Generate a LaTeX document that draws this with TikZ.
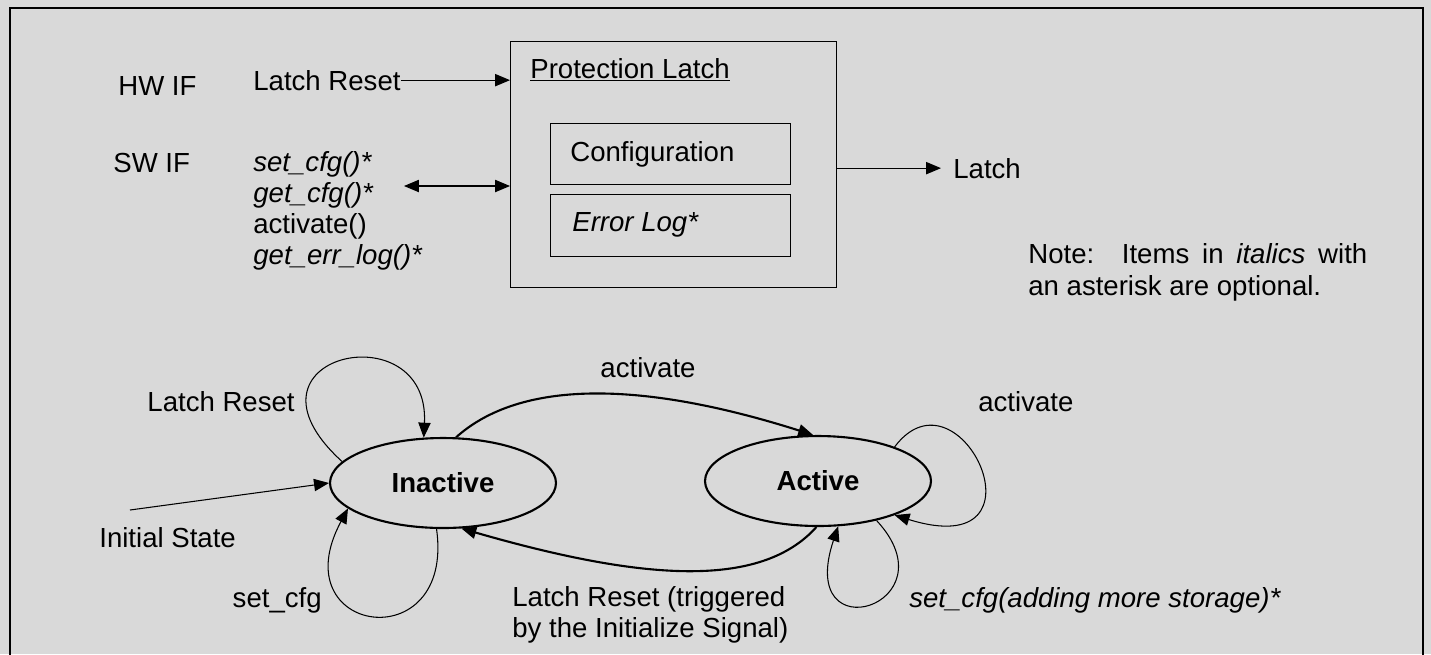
\documentclass[tikz,border=0pt]{standalone}
\usepackage{xcolor}
\usepackage{fontspec}
\setmainfont{Liberation Sans}
\usetikzlibrary{arrows.meta, shapes.geometric}
\definecolor{panelgray}{HTML}{D9D9D9}

\begin{document}
\begin{tikzpicture}[x=0.02cm, y=-0.02cm,
%
    every node/.style={font=\fontsize{15.7}{17.6}\selectfont, inner sep=0pt},
    txt/.style={anchor=base west},
    state/.style={ellipse,draw,line width=1.2pt,minimum width=4.52cm,minimum height=1.8cm,
                  font=\fontsize{15.7}{17.6}\selectfont\bfseries},
    box/.style={draw,line width=0.7pt,anchor=north west},
    thinline/.style={line width=0.6pt},
    mainline/.style={line width=1.2pt},
     Arr/.style={-{Triangle[length=8.5pt,width=7pt]}},
     BiArr/.style={{Triangle[length=8.5pt,width=7pt]}-{Triangle[length=8.5pt,width=7pt]}},
                        ]
    \useasboundingbox (0,0) rectangle (1431,654);
    \fill[panelgray] (0,0) rectangle (1431,654);
    \draw[line width=1.2pt] (10,660) -- (10,8) -- (1423,8) -- (1423,660);

    % block part (base anchor of a multi-line node = last line)
    \node[txt] (hw_if)  at (118,95) {HW IF};
    \node[txt] (sw_if)  at (113,172) {SW IF};
    \node[txt] (rst_in) at (253,90) {Latch Reset};
    \node[txt, align=left] (sw_calls) at (253,264)
        {\textit{set\_cfg()*}\\ \textit{get\_cfg()*}\\ activate()\\ \textit{get\_err\_log()*}};

    \node[box, minimum width=6.52cm, minimum height=4.92cm] (prot_box) at (510,41) {};
    \node[txt] (prot_title) at (530,78) {\underline{Protection Latch}};
    \node[box, minimum width=4.8cm, minimum height=1.22cm] (cfg_box) at (550,123) {};
    \node[box, minimum width=4.8cm, minimum height=1.24cm] (log_box) at (550,194) {};
    \node[txt] (cfg_lbl) at (570,161) {Configuration};
    \node[txt] (log_lbl) at (572,231) {\textit{Error Log*}};
    \node[txt] (latch_out) at (953,178) {Latch};

    \node[txt, align=left, font=\fontsize{15.7}{18.2}\selectfont] (note) at (1028,295)
        {\makebox[6.78cm][s]{Note:\quad Items in \textit{italics} with}\\ an asterisk are optional.};

    \coordinate (sw_tip) at (404,186);
    \draw[Arr, thinline] (rst_in.east) -- (rst_in.east -| prot_box.west);
    \draw[BiArr, thinline] (sw_tip) -- (sw_tip -| prot_box.west);
    \draw[Arr, thinline, shorten >=0.24cm] (prot_box.east |- latch_out.west) -- (latch_out.west);

    % state machine
    \node[state] (inactive_node) at (443,483) {Inactive};
    \node[state] (active_node)   at (818,481) {Active};
    \coordinate (init_start) at (130,510);

    \node[anchor=base east] (rst_loop_lbl) at (295,411) {Latch Reset};
    \node[txt] (init_lbl) at (99,547) {Initial State};
    \node[anchor=base east] (cfg_loop_lbl) at (322,607) {set\_cfg};
    \node[anchor=base] (act_lbl) at (648,377) {activate};
    \node[txt] (act_loop_lbl) at (978,411) {activate};
    \node[txt, align=left] (rst_lbl) at (512,637) {Latch Reset (triggered\\by the Initialize Signal)};
    \node[txt] (store_lbl) at (909,607) {\textit{set\_cfg(adding more storage)*}};

    \draw[Arr, thinline] (init_start) -- (inactive_node.west);
    \draw[Arr, thinline] (inactive_node.168) .. controls (225,355) and (430,310) .. (inactive_node.113);
    \draw[Arr, thinline] (inactive_node.262) .. controls (455,660) and (280,635) .. (inactive_node.195);
    \draw[Arr, thinline] (active_node.24) .. controls (960,360) and (1055,565) .. (active_node.-24);
    \draw[Arr, thinline] (active_node.-34) .. controls (955,605) and (795,655) .. (active_node.-66);
    \draw[Arr, mainline] (inactive_node.74) .. controls (520,380) and (640,380) .. (active_node.96);
    \draw[Arr, mainline] (active_node.-92) .. controls (760,590) and (640,580) .. (inactive_node.-68);

    \end{tikzpicture}
\end{document}
